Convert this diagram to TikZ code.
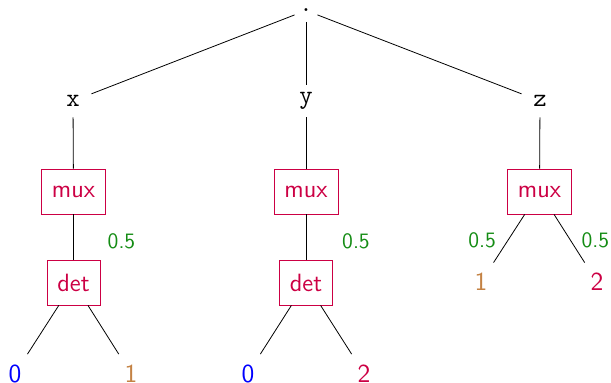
\documentclass[tikz,border=0pt]{standalone}
\usepackage{tikz}
\definecolor{opred}{RGB}{204,0,68}
\definecolor{vzero}{RGB}{0,0,255}
\definecolor{vone}{RGB}{196,130,68}
\definecolor{pgreen}{RGB}{20,140,20}

\begin{document}
\begin{tikzpicture}[x=0.5pt,y=-0.5pt]
  \tikzstyle{Var}=[font=\fontsize{13}{15}\selectfont\ttfamily,
                   inner sep=0pt,minimum width=18pt,minimum height=16pt]
  \tikzstyle{Op}=[draw=opred,text=opred,font=\fontsize{12.5}{15}\selectfont\sffamily,
                  inner xsep=5.2pt,inner ysep=0pt,minimum height=22.5pt]
  \tikzstyle{Leaf}=[font=\fontsize{13}{15}\selectfont\sffamily,
                    inner sep=0pt,minimum width=16pt,minimum height=19pt]
  \tikzstyle{Prob}=[text=pgreen,font=\fontsize{11}{13}\selectfont\sffamily]

  \useasboundingbox (0,0) rectangle (611,383);

  \node[Var,minimum width=11pt,minimum height=11pt] (root) at (306,10.5) {.};
  \node[Var] (x) at (73,101) {x};
  \node[Var] (y) at (306,101) {y};
  \node[Var] (z) at (540,101) {z};

  \node[Op] (muxx) at (73.5,191.5) {mux};
  \node[Op] (muxy) at (306,191.5) {mux};
  \node[Op] (muxz) at (539.5,191.5) {mux};
  \node[Op] (detx) at (73.5,282.5) {det};
  \node[Op] (dety) at (306,282.5) {det};

  \node[Leaf,text=vzero] (x0) at (15,373.5) {0};
  \node[Leaf,text=vone] (x1) at (131,373.5) {1};
  \node[Leaf,text=vzero] (y0) at (248,373.5) {0};
  \node[Leaf,text=opred] (y2) at (364,373.5) {2};
  \node[Leaf,text=vone] (z1) at (481,282) {1};
  \node[Leaf,text=opred] (z2) at (597,282) {2};

  \draw (root) -- (x);
  \draw (root) -- (y);
  \draw (root) -- (z);
  \draw (x) -- (muxx);
  \draw (y) -- (muxy);
  \draw (z) -- (muxz);
  \draw (muxx) -- node[Prob,xshift=24pt,yshift=-2pt] {0.5} (detx);
  \draw (muxy) -- node[Prob,xshift=25pt,yshift=-2pt] {0.5} (dety);
  \draw (muxz) -- node[Prob,xshift=-13.5pt,yshift=-1pt] {0.5} (z1);
  \draw (muxz) -- node[Prob,xshift=13pt,yshift=-1pt] {0.5} (z2);
  \draw (detx) -- (x0);
  \draw (detx) -- (x1);
  \draw (dety) -- (y0);
  \draw (dety) -- (y2);
\end{tikzpicture}
\end{document}
